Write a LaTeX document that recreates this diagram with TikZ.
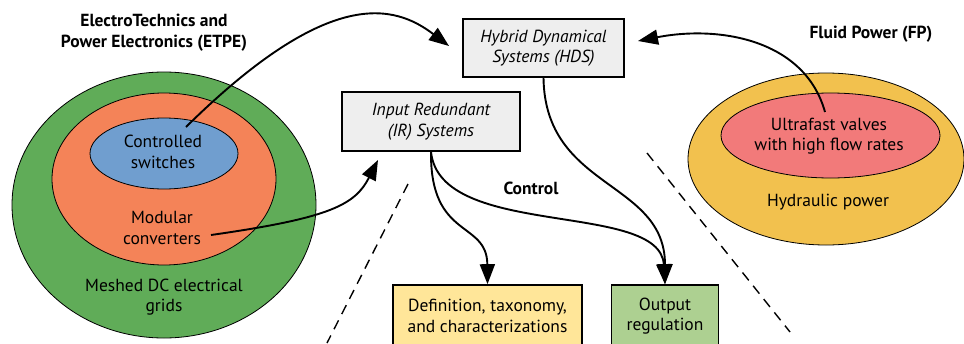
\documentclass[tikz,border=0pt]{standalone}
\usepackage{fontspec}
\setmainfont{PT Sans}
\usetikzlibrary{arrows.meta}
\definecolor{gridgreen}{RGB}{96,172,88}
\definecolor{convorange}{RGB}{244,131,88}
\definecolor{switchblue}{RGB}{112,158,207}
\definecolor{hydyellow}{RGB}{242,193,78}
\definecolor{valvered}{RGB}{242,122,122}
\definecolor{boxgray}{RGB}{238,238,238}
\definecolor{defyellow}{RGB}{255,230,153}
\definecolor{outgreen}{RGB}{173,208,145}
\tikzset{
  txt/.style={font=\fontsize{17.5}{20.5}\selectfont, align=center, inner sep=0pt},
  title/.style={txt, font=\fontsize{17.5}{21}\selectfont\bfseries},
  blob/.style={draw=black, line width=0.8pt},
  concept/.style={draw=black, line width=1.6pt, align=center, inner sep=0pt,
    font=\fontsize{17.5}{20.5}\selectfont},
  link/.style={line width=1.9pt, -{Triangle[length=20pt,width=15pt]}},
  divider/.style={line width=1.4pt, dashed, dash pattern=on 10pt off 7pt}
}
\begin{document}
\begin{tikzpicture}[x=1pt,y=-1pt]
\useasboundingbox (0,0) rectangle (964,343);

% ETPE domain: nested ellipses
\fill[gridgreen, blob, draw=black] (164,205) ellipse [x radius=152, y radius=133];
\fill[convorange, blob, draw=black] (164,179) ellipse [x radius=112, y radius=86];
\fill[switchblue, blob, draw=black] (164,153.5) ellipse [x radius=74, y radius=35.5];
\node[title] (etpe) at (154,33) {ElectroTechnics and\\Power Electronics (ETPE)};
\node[txt] (switches) at (163,152) {Controlled\\switches};
\node[txt] (modular) at (162,228) {Modular\\converters};
\node[txt] (grids) at (164,297) {Meshed DC electrical\\grids};

% FP domain
\fill[hydyellow, blob, draw=black] (826,159) ellipse [x radius=138, y radius=86];
\fill[valvered, blob, draw=black] (830.5,135.5) ellipse [x radius=109.5, y radius=42.5];
\node[title] (fp) at (871,34) {Fluid Power (FP)};
\node[txt] (valves) at (829,136) {Ultrafast valves\\with high flow rates};
\node[txt] (hydraulic) at (828,202) {Hydraulic power};

% Control concepts
\node[concept, fill=boxgray, minimum width=161pt, minimum height=58pt,
  font=\fontsize{17.5}{20.5}\selectfont\itshape] (hds) at (543.5,48) {Hybrid Dynamical\\Systems (HDS)};
\node[concept, fill=boxgray, minimum width=178pt, minimum height=59pt,
  font=\fontsize{17.5}{20.5}\selectfont\itshape] (ir) at (431,121.5) {Input Redundant\\(IR) Systems};
\node[concept, fill=defyellow, minimum width=189pt, minimum height=62pt] (def) at (487.5,316) {Definition, taxonomy,\\and characterizations};
\node[concept, fill=outgreen, minimum width=107pt, minimum height=62pt] (out) at (665,316) {Output\\regulation};
\node[title] (control) at (531,188) {Control};

% Domain separators
\coordinate (dl1) at (408,184);
\coordinate (dl2) at (327,343);
\coordinate (dr1) at (647,153);
\coordinate (dr2) at (790,332);
\draw[divider] (dl1) -- (dl2);
\draw[divider] (dr1) -- (dr2);

% Connectors
\coordinate (swtop) at (186,127);
\coordinate (hdsin) at (449,46);
\coordinate (modr) at (211,235);
\coordinate (irin) at (378,160);
\coordinate (valtop) at (825,112);
\coordinate (hdsout) at (638,41);
\draw[link] (swtop) .. controls (330,-15) and (395,5) .. (hdsin);
\draw[link] (modr) .. controls (330,218) and (355,205) .. (irin);
\draw[link] (valtop) .. controls (805,40) and (720,25) .. (hdsout);
\draw[link] (hds.south) .. controls (545,190) and (665,180) .. (out.north);
\draw[link] (ir.south) .. controls (430,240) and (487,220) .. (def.north);
\draw[link] (ir.south) .. controls (440,240) and (660,200) .. (out.north);
\end{tikzpicture}
\end{document}
